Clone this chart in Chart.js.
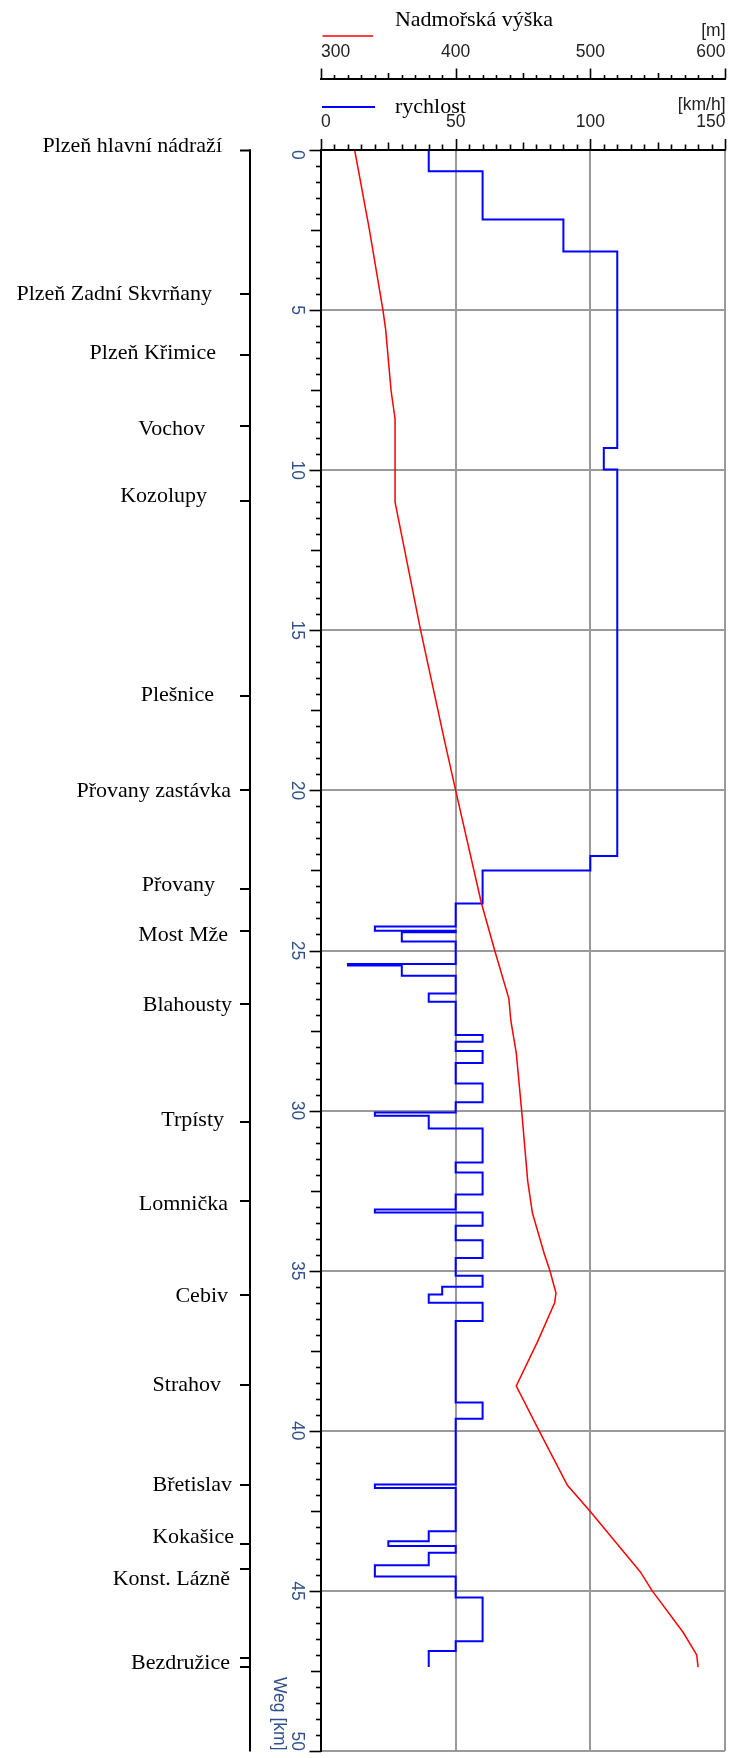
<!DOCTYPE html>
<html>
<head>
<meta charset="utf-8">
<title>Plzeň – Bezdružice</title>
<script src="https://cdn.jsdelivr.net/npm/chart.js@4/dist/chart.umd.min.js"></script>
<style>
  html, body { margin: 0; padding: 0; background: #fff; }
  canvas { display: block; }
</style>
</head>
<body>
<canvas id="profile" width="733" height="1758"></canvas>
<script>
// ---- Stations along the line (distance in km) ----
const stationNames = ['Plzeň hlavní nádraží', 'Plzeň Zadní Skvrňany', 'Plzeň Křimice', 'Vochov', 'Kozolupy',
  'Plešnice', 'Přovany zastávka', 'Přovany', 'Most Mže', 'Blahousty', 'Trpísty', 'Lomnička', 'Cebiv',
  'Strahov', 'Břetislav', 'Kokašice', 'Konst. Lázně', 'Bezdružice', ''];
const stationKm = [0, 4.5, 6.4, 8.61, 10.95, 17.06, 20.0, 23.08, 24.4, 26.66, 30.36, 32.83, 35.77,
  38.57, 41.7, 43.53, 44.33, 47.11, 47.39];

// ---- Line speed: each section starts at speedKm[i] with speedKmh[i] ----
const speedKm = [0, 0.66, 2.17, 3.17, 9.31, 9.98, 22.05, 22.5, 23.53, 24.25, 24.38, 24.43, 24.72,
  25.42, 25.47, 25.79, 26.34, 26.6, 27.64, 27.85, 28.14, 28.51, 29.15, 29.74, 30.06, 30.16, 30.56,
  31.62, 31.93, 32.62, 33.09, 33.18, 33.6, 34.05, 34.6, 35.16, 35.5, 35.74, 36.0, 36.57, 39.12,
  39.62, 41.68, 41.79, 43.14, 43.45, 43.6, 43.81, 44.2, 44.55, 45.21, 46.57, 46.88];
const speedKmh = [40, 60, 90, 110, 105, 110, 100, 60, 50, 20, 50, 30, 50,
  10, 30, 50, 40, 50, 60, 50, 60, 50, 60, 50, 20, 40, 60,
  50, 60, 50, 20, 60, 50, 60, 50, 60, 45, 40, 60, 50, 60,
  50, 20, 50, 40, 25, 50, 40, 20, 50, 60, 50, 40];
const lineEndKm = 47.38;

// ---- Elevation profile ----
const altKm = [0, 2.5, 5.0, 5.6, 7.5, 8.4, 11.0, 15.0, 18.5, 20.0, 23.5, 25.0, 26.5, 27.2, 28.2,
  30.0, 32.2, 33.2, 34.5, 35.0, 35.7, 36.0, 37.2, 38.6, 40.0, 41.7, 42.5, 44.4, 45.0, 46.3, 47.0, 47.38];
const altM = [325, 336, 346, 348, 352, 355, 355, 374, 392, 400, 419, 429, 439.5, 441, 445,
  449, 453.5, 457, 466, 470, 474.5, 473.5, 461, 445, 462, 483, 499.5, 537, 546, 569, 579, 580];

// ---- Axis ranges and labelled ticks ----
const kmTicks = [0, 5, 10, 15, 20, 25, 30, 35, 40, 45, 50];
const speedTicks = [0, 50, 100, 150];
const altTicks = [300, 400, 500, 600];

// ---- Station label placement (right edge x, baseline drop below tick) ----
const labelRight = [222, 212, 216, 205, 207, 214, 231, 215, 228, 232, 224, 228, 228, 221, 232, 234, 230, 230, 0];
const labelDrop = [1.6, 6, 4.3, 9.3, 1, 4.7, 7.2, 1.8, 9.6, 7.1, 3.6, 8.9, 7.1, 6.4, 6, -1.1, 16, 10.6, 0];

const SERIF = '22px "Liberation Serif", "DejaVu Serif", serif';
const SANS = '17.5px "Liberation Sans", Arial, sans-serif';
const RED = '#ff0000';
const BLUE = '#0000ff';
const KM_COLOR = '#30508a';

function seg(ctx, x1, y1, x2, y2) {
  ctx.beginPath();
  ctx.moveTo(x1, y1);
  ctx.lineTo(x2, y2);
  ctx.stroke();
}

function edgeAlign(i, n) {
  return i === 0 ? 'left' : (i === n - 1 ? 'right' : 'center');
}

// Axes, ticks, station list and legend drawn around the plot area
const profileDecor = {
  id: 'profileDecor',
  afterDraw(chart) {
    const { ctx, chartArea: area, scales } = chart;
    const yS = scales.y, vS = scales.x, hS = scales.alt;
    const yTop = yS.getPixelForValue(0);
    const yBot = yS.getPixelForValue(50);

    ctx.save();
    ctx.strokeStyle = '#000';
    ctx.fillStyle = '#000';
    ctx.lineCap = 'butt';

    // distance axis with half-km ticks
    ctx.lineWidth = 2;
    seg(ctx, area.left, yTop - 1, area.left, yBot + 1);
    for (let i = 0; i <= 100; i++) {
      const k = i / 2;
      const y = Math.round(yS.getPixelForValue(k)) + 0.5;
      const len = i % 10 === 0 ? 11.5 : (i % 5 === 0 ? 10 : 5);
      ctx.lineWidth = 1.6;
      seg(ctx, area.left - len, y, area.left, y);
    }

    // speed axis along the top of the plot
    ctx.lineWidth = 2;
    seg(ctx, area.left - 1, area.top, area.right + 1, area.top);
    for (let v = 0; v <= 150; v += 5) {
      const x = Math.round(vS.getPixelForValue(v)) + 0.5;
      const len = v % 50 === 0 ? 11 : (v % 25 === 0 ? 7.5 : 5.5);
      ctx.lineWidth = 1.6;
      seg(ctx, x, area.top - len, x, area.top);
    }

    // elevation axis above it
    const altY = 79;
    ctx.lineWidth = 2;
    seg(ctx, hS.left - 1, altY, hS.right + 1, altY);
    for (let m = 300; m <= 600; m += 10) {
      const x = Math.round(hS.getPixelForValue(m)) + 0.5;
      const len = m % 100 === 0 ? 10.5 : (m % 50 === 0 ? 6 : 4);
      ctx.lineWidth = 1.6;
      seg(ctx, x, altY - len, x, altY);
    }

    // tick labels of the two top axes
    ctx.font = SANS;
    ctx.fillStyle = '#222';
    ctx.textBaseline = 'alphabetic';
    altTicks.forEach((m, i) => {
      ctx.textAlign = edgeAlign(i, altTicks.length);
      ctx.fillText(String(m), hS.getPixelForValue(m) + (i === altTicks.length - 1 ? 0.5 : 0), 56.5);
    });
    speedTicks.forEach((v, i) => {
      ctx.textAlign = edgeAlign(i, speedTicks.length);
      ctx.fillText(String(v), vS.getPixelForValue(v) + (i === speedTicks.length - 1 ? 0.5 : 0), 127);
    });
    ctx.textAlign = 'right';
    ctx.fillText('[m]', area.right + 0.5, 35.5);
    ctx.fillText('[km/h]', area.right + 0.5, 110);

    // legend entries
    ctx.font = SERIF;
    ctx.fillStyle = '#000';
    ctx.textAlign = 'center';
    ctx.fillText(chart.data.datasets[0].label, 474, 25.5);
    ctx.textAlign = 'left';
    ctx.fillText(chart.data.datasets[1].label, 395, 112.5);
    ctx.strokeStyle = RED;
    ctx.lineWidth = 1.5;
    seg(ctx, 322.5, 36, 373, 36);
    ctx.strokeStyle = BLUE;
    ctx.lineWidth = 2;
    seg(ctx, 322, 107, 375, 107);

    // distance labels, rotated
    ctx.font = SANS;
    ctx.fillStyle = KM_COLOR;
    kmTicks.forEach((k, i) => {
      ctx.save();
      ctx.translate(292, yS.getPixelForValue(k));
      ctx.rotate(Math.PI / 2);
      ctx.textAlign = edgeAlign(i, kmTicks.length);
      ctx.fillText(String(k), 0, 0);
      ctx.restore();
    });
    ctx.save();
    ctx.translate(273.5, yBot - 0.5);
    ctx.rotate(Math.PI / 2);
    ctx.textAlign = 'right';
    ctx.fillText('Weg [km]', 0, 0);
    ctx.restore();

    // station list on its own axis
    const sx = 250;
    ctx.strokeStyle = '#000';
    ctx.lineWidth = 2;
    seg(ctx, sx, yTop - 0.5, sx, yBot + 0.5);
    ctx.font = SERIF;
    ctx.fillStyle = '#000';
    ctx.textAlign = 'right';
    stationKm.forEach((k, i) => {
      const y = Math.round(yS.getPixelForValue(k)) + (i === 0 ? 0.5 : 0);
      ctx.lineWidth = 2;
      seg(ctx, sx - 10, y, sx + 1, y);
      if (stationNames[i]) {
        ctx.fillText(stationNames[i], labelRight[i], y + labelDrop[i]);
      }
    });

    ctx.restore();
  }
};

const altPoints = altKm.map((k, i) => ({ x: altM[i], y: k }));
const speedPoints = speedKm.map((k, i) => ({ x: speedKmh[i], y: k }));
speedPoints.push({ x: speedKmh[speedKmh.length - 1], y: lineEndKm });

const gridStyle = { color: '#9a9a9a', lineWidth: 2, drawTicks: false };

new Chart(document.getElementById('profile'), {
  type: 'line',
  data: {
    datasets: [
      {
        label: 'Nadmořská výška',
        data: altPoints,
        xAxisID: 'alt',
        yAxisID: 'y',
        indexAxis: 'y',
        borderColor: RED,
        borderWidth: 1.5,
        pointRadius: 0,
        tension: 0,
        fill: false
      },
      {
        label: 'rychlost',
        data: speedPoints,
        xAxisID: 'x',
        yAxisID: 'y',
        indexAxis: 'y',
        stepped: 'after',
        borderColor: BLUE,
        borderWidth: 2,
        pointRadius: 0,
        fill: false
      }
    ]
  },
  options: {
    indexAxis: 'y',
    responsive: false,
    animation: false,
    devicePixelRatio: 1,
    layout: { padding: { left: 321, top: 150, right: 8, bottom: 7 } },
    plugins: {
      legend: { display: false },
      tooltip: { enabled: false },
      title: { display: false }
    },
    scales: {
      y: {
        type: 'linear', reverse: true, min: 0, max: 50, position: 'left',
        ticks: { display: false, stepSize: 5 },
        grid: gridStyle,
        border: { display: false }
      },
      x: {
        type: 'linear', min: 0, max: 150, position: 'top',
        ticks: { display: false, stepSize: 50 },
        grid: gridStyle,
        border: { display: false }
      },
      alt: {
        type: 'linear', min: 300, max: 600, position: 'top',
        ticks: { display: false, stepSize: 100 },
        grid: { display: false, drawTicks: false },
        border: { display: false }
      }
    }
  },
  plugins: [profileDecor]
});
</script>
</body>
</html>
